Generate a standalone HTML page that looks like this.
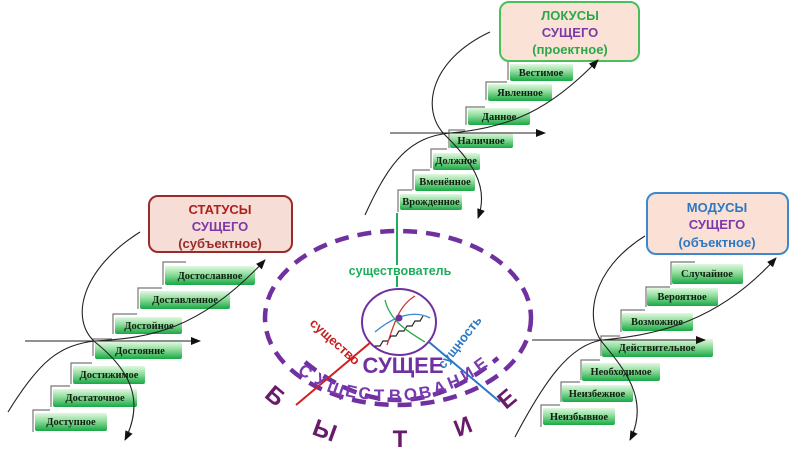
<!DOCTYPE html>
<html><head><meta charset="utf-8"><style>
html,body{margin:0;padding:0;background:#fff;width:798px;height:449px;overflow:hidden}
svg{display:block}
.st{font-family:"Liberation Serif",serif;font-weight:bold;font-size:10.5px;fill:#112011}
.bx{font-family:"Liberation Sans","DejaVu Sans",sans-serif;font-weight:bold;font-size:13px}
</style></head><body>
<svg width="798" height="449" viewBox="0 0 798 449" xmlns="http://www.w3.org/2000/svg">
<defs>
<linearGradient id="g" x1="0" y1="0" x2="0" y2="1">
<stop offset="0" stop-color="#e0f8e0"/><stop offset="0.45" stop-color="#8edc9a"/><stop offset="1" stop-color="#18a844"/>
</linearGradient>
<marker id="a" markerWidth="10" markerHeight="8" refX="9" refY="4" orient="auto" markerUnits="userSpaceOnUse"><path d="M0,0 L10,4 L0,8 z" fill="#111"/></marker>
</defs>

<!-- LEFT stairs -->
<g stroke="#777" fill="none" stroke-width="1.2">
<path d="M33,432 V410 H50"/><path d="M51,407 V386 H70"/><path d="M71,384 V363 H92"/><path d="M93,356 V339 H112"/><path d="M113,334 V314 H137"/><path d="M138,309 V288 H162"/><path d="M163,285 V262 H186"/>
</g>
<g>
<rect x="35" y="413" width="72" height="18" rx="2" fill="url(#g)"/><text class="st" x="71" y="425" text-anchor="middle">Доступное</text>
<rect x="53" y="389" width="84" height="18" rx="2" fill="url(#g)"/><text class="st" x="95" y="401" text-anchor="middle">Достаточное</text>
<rect x="73" y="366" width="72" height="18" rx="2" fill="url(#g)"/><text class="st" x="109" y="378" text-anchor="middle">Достижимое</text>
<rect x="95" y="342" width="87" height="17" rx="2" fill="url(#g)"/><text class="st" x="140" y="354" text-anchor="middle">Достояние</text>
<rect x="115" y="317" width="67" height="17" rx="2" fill="url(#g)"/><text class="st" x="149" y="329" text-anchor="middle">Достойное</text>
<rect x="140" y="291" width="90" height="18" rx="2" fill="url(#g)"/><text class="st" x="185" y="303" text-anchor="middle">Доставленное</text>
<rect x="165" y="266" width="90" height="19" rx="2" fill="url(#g)"/><text class="st" x="210" y="279" text-anchor="middle">Достославное</text>
</g>
<rect x="149" y="196" width="143" height="56" rx="9" fill="#f6ddd6" stroke="#9b2a2a" stroke-width="2"/>
<text class="bx" x="220" y="214" text-anchor="middle" fill="#b01e1e">СТАТУСЫ</text>
<text class="bx" x="220" y="231" text-anchor="middle" fill="#7b3aa8">СУЩЕГО</text>
<text class="bx" x="220" y="248" text-anchor="middle" fill="#9b2a2a">(субъектное)</text>
<g stroke="#222" stroke-width="1.1" fill="none">
<path d="M25,341 H200" marker-end="url(#a)"/>
<path d="M140,232 C80,270 70,320 95,342 C130,370 145,400 125,440" marker-end="url(#a)"/>
<path d="M8,412 C40,360 60,345 95,341 C150,338 200,330 265,260" marker-end="url(#a)"/>
</g>

<!-- TOP stairs -->
<g stroke="#777" fill="none" stroke-width="1.2">
<path d="M398,212 V190 H412"/><path d="M413,190 V170 H430"/><path d="M431,168 V149 H447"/><path d="M449,148 V130 H465"/><path d="M466,125 V107 H485"/><path d="M486,100 V82 H507"/><path d="M508,80 V61 H531"/>
</g>
<g>
<rect x="400" y="194" width="62" height="16" rx="2" fill="url(#g)"/><text class="st" x="431" y="205" text-anchor="middle">Врожденное</text>
<rect x="415" y="174" width="60" height="17" rx="2" fill="url(#g)"/><text class="st" x="445" y="185" text-anchor="middle">Вменённое</text>
<rect x="433" y="153" width="47" height="17" rx="2" fill="url(#g)"/><text class="st" x="456" y="164" text-anchor="middle">Должное</text>
<rect x="450" y="133" width="63" height="15" rx="2" fill="url(#g)"/><text class="st" x="481" y="144" text-anchor="middle">Наличное</text>
<rect x="468" y="108" width="62" height="17" rx="2" fill="url(#g)"/><text class="st" x="499" y="120" text-anchor="middle">Данное</text>
<rect x="488" y="84" width="64" height="17" rx="2" fill="url(#g)"/><text class="st" x="520" y="96" text-anchor="middle">Явленное</text>
<rect x="510" y="64" width="63" height="17" rx="2" fill="url(#g)"/><text class="st" x="541" y="76" text-anchor="middle">Вестимое</text>
</g>
<rect x="500" y="2" width="139" height="59" rx="9" fill="#fbe2d7" stroke="#4bbf5a" stroke-width="2"/>
<text class="bx" x="570" y="20" text-anchor="middle" fill="#2aa84a">ЛОКУСЫ</text>
<text class="bx" x="570" y="37" text-anchor="middle" fill="#7b3aa8">СУЩЕГО</text>
<text class="bx" x="570" y="54" text-anchor="middle" fill="#2aa84a">(проектное)</text>
<g stroke="#222" stroke-width="1.1" fill="none">
<path d="M390,133 H545" marker-end="url(#a)"/>
<path d="M490,32 C430,60 420,110 445,135 C470,160 490,185 478,218" marker-end="url(#a)"/>
<path d="M365,215 C390,160 410,137 450,133 C510,128 550,110 598,60" marker-end="url(#a)"/>
</g>

<!-- RIGHT stairs -->
<g stroke="#777" fill="none" stroke-width="1.2">
<path d="M541,427 V405 H560"/><path d="M561,402 V382 H580"/><path d="M581,380 V360 H600"/><path d="M601,356 V336 H620"/><path d="M621,332 V310 H645"/><path d="M646,307 V287 H670"/><path d="M671,285 V262 H695"/>
</g>
<g>
<rect x="543" y="408" width="72" height="17" rx="2" fill="url(#g)"/><text class="st" x="579" y="420" text-anchor="middle">Неизбывное</text>
<rect x="562" y="385" width="71" height="17" rx="2" fill="url(#g)"/><text class="st" x="597" y="397" text-anchor="middle">Неизбежное</text>
<rect x="582" y="363" width="78" height="18" rx="2" fill="url(#g)"/><text class="st" x="621" y="375" text-anchor="middle">Необходимое</text>
<rect x="602" y="339" width="111" height="18" rx="2" fill="url(#g)"/><text class="st" x="657" y="351" text-anchor="middle">Действительное</text>
<rect x="622" y="313" width="71" height="18" rx="2" fill="url(#g)"/><text class="st" x="657" y="325" text-anchor="middle">Возможное</text>
<rect x="647" y="288" width="71" height="18" rx="2" fill="url(#g)"/><text class="st" x="682" y="300" text-anchor="middle">Вероятное</text>
<rect x="672" y="264" width="71" height="20" rx="2" fill="url(#g)"/><text class="st" x="707" y="277" text-anchor="middle">Случайное</text>
</g>
<rect x="647" y="193" width="141" height="61" rx="9" fill="#fbe0d5" stroke="#3b88cf" stroke-width="2"/>
<text class="bx" x="717" y="212" text-anchor="middle" fill="#2b78c4">МОДУСЫ</text>
<text class="bx" x="717" y="229" text-anchor="middle" fill="#7b3aa8">СУЩЕГО</text>
<text class="bx" x="717" y="247" text-anchor="middle" fill="#2b78c4">(объектное)</text>
<g stroke="#222" stroke-width="1.1" fill="none">
<path d="M532,340 H705" marker-end="url(#a)"/>
<path d="M645,236 C590,270 585,320 602,342 C625,370 650,400 630,440" marker-end="url(#a)"/>
<path d="M515,437 C545,380 570,345 602,340 C660,335 720,320 776,258" marker-end="url(#a)"/>
</g>

<!-- CENTER -->
<path d="M397,213 V265" stroke="#1eae5a" stroke-width="2"/>
<path d="M397,276 V287" stroke="#1eae5a" stroke-width="2"/>
<ellipse cx="398" cy="318" rx="133" ry="87" fill="none" stroke="#7030a0" stroke-width="4.5" stroke-dasharray="14,9"/>
<path d="M305,362 Q400,440 498,358" fill="none" stroke="#7030a0" stroke-width="4.5" stroke-dasharray="14,9"/>
<text x="400" y="275" text-anchor="middle" font-family="Liberation Sans,sans-serif" font-weight="bold" font-size="12.5" fill="#1eae5a">существователь</text>
<ellipse cx="399" cy="322" rx="37" ry="33" fill="#fff" stroke="#7030a0" stroke-width="2"/>
<path d="M375,346 h5 l3,-5 h5 l3,-5 h5 l3,-5 h5 l3,-5 h5 l3,-5 h5 l3,-5" fill="none" stroke="#222" stroke-width="1.2"/>
<path d="M387,345 C395,320 400,305 415,296" fill="none" stroke="#d03030" stroke-width="1.3"/>
<path d="M385,300 C390,320 405,330 425,342" fill="none" stroke="#2aa84a" stroke-width="1.3"/>
<path d="M375,332 C395,315 415,310 430,318" fill="none" stroke="#3b88cf" stroke-width="1.3"/>
<circle cx="399" cy="318" r="3.5" fill="#7030a0"/>
<path d="M296,405 L371,342" stroke="#d02020" stroke-width="2"/>
<path d="M429,342 L500,402" stroke="#2b78c4" stroke-width="2"/>
<text transform="translate(332,345) rotate(42)" text-anchor="middle" font-family="Liberation Sans,sans-serif" font-weight="bold" font-size="13" fill="#c81e1e">существо</text>
<text transform="translate(463,345) rotate(-52)" text-anchor="middle" font-family="Liberation Sans,sans-serif" font-weight="bold" font-size="13" fill="#2b78c4">сущность</text>
<text x="403" y="373" text-anchor="middle" font-family="Liberation Sans,sans-serif" font-weight="bold" font-size="22" fill="#7030a0">СУЩЕЕ</text>
<g font-family="Liberation Sans,sans-serif" font-weight="bold" font-size="17" fill="#7a3ab0" text-anchor="middle">
<text transform="translate(302,376) rotate(35)">С</text>
<text transform="translate(318,385) rotate(28)">У</text>
<text transform="translate(334,394) rotate(20)">Щ</text>
<text transform="translate(350,397) rotate(12)">Е</text>
<text transform="translate(364,399) rotate(6)">С</text>
<text transform="translate(379,401)">Т</text>
<text transform="translate(395,401)">В</text>
<text transform="translate(411,400) rotate(-5)">О</text>
<text transform="translate(426,398) rotate(-10)">В</text>
<text transform="translate(441,393) rotate(-16)">А</text>
<text transform="translate(456,387) rotate(-22)">Н</text>
<text transform="translate(470,379) rotate(-30)">И</text>
<text transform="translate(484,369) rotate(-36)">Е</text>
</g>
<g font-family="Liberation Sans,sans-serif" font-weight="bold" font-size="24" fill="#6a1a6a" text-anchor="middle">
<text transform="translate(270,402) rotate(40)">Б</text>
<text transform="translate(322,438) rotate(20)">Ы</text>
<text transform="translate(400,447)">Т</text>
<text transform="translate(466,434) rotate(-22)">И</text>
<text transform="translate(512,405) rotate(-40)">Е</text>
</g>
</svg>
</body></html>
